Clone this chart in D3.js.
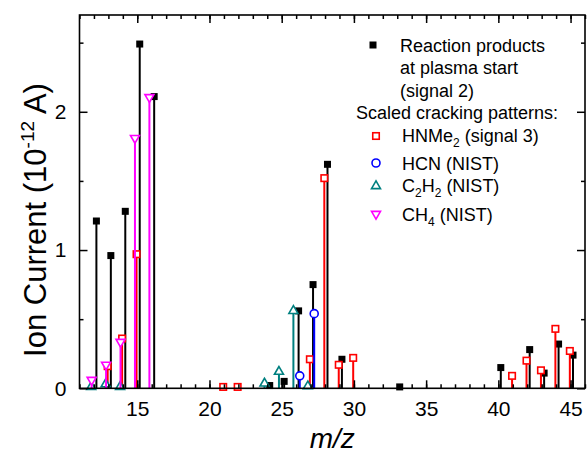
<!DOCTYPE html>
<html>
<head>
<meta charset="utf-8">
<title>Ion current vs m/z</title>
<script src="https://d3js.org/d3.v7.min.js"></script>
<style>
  body { margin: 0; background: #fff; }
  text { font-family: "Liberation Sans", Arial, sans-serif; fill: #000; }
</style>
</head>
<body>
<div id="chart"></div>
<script>
// Reaction products at plasma start (signal 2)
const mzSignal2 = [12, 13, 14, 15, 16, 24, 25, 26, 27, 28, 29, 33, 40, 42, 43, 44, 45]
const ionSignal2 = [1.21, 0.96, 1.28, 2.49, 2.11, 0.02, 0.05, 0.56, 0.75, 1.62, 0.21, 0.01, 0.15, 0.28, 0.11, 0.32, 0.24]

// Scaled cracking patterns
const mzHNMe2 = [13, 14, 15, 21, 22, 27, 28, 29, 30, 41, 42, 43, 44, 45]
const ionHNMe2 = [0.16, 0.36, 0.97, 0.01, 0.01, 0.21, 1.52, 0.17, 0.22, 0.09, 0.20, 0.13, 0.43, 0.27]

const mzHCN = [26, 27]
const ionHCN = [0.09, 0.54]

const mzC2H2 = [12, 13, 14, 24, 25, 26, 27]
const ionC2H2 = [0.01, 0.03, 0.01, 0.035, 0.12, 0.56, 0.015]

const mzCH4 = [12, 13, 14, 15, 16]
const ionCH4 = [0.06, 0.17, 0.335, 1.81, 2.105]

const xTicks = [15, 20, 25, 30, 35, 40, 45]
const yTicks = [0, 1, 2]

const w = 587
const h = 461
const margin = {left: 79.5, right: 2, top: 15, bottom: 72.7}

const x = d3.scaleLinear().domain([11, 46]).range([margin.left, w - margin.right])
const y = d3.scaleLinear().domain([0, 2.7]).range([h - margin.bottom, margin.top])

const svg = d3.select("#chart").append("svg")
    .attr("width", w)
    .attr("height", h)

// series: small horizontal shift so overlapping stems stay visible
const series = [
    {mz: mzSignal2, ion: ionSignal2, color: "#000", shape: "square", filled: true, shift: 0.17},
    {mz: mzHNMe2, ion: ionHNMe2, color: "#ff0000", shape: "square", filled: false, shift: -0.05},
    {mz: mzHCN, ion: ionHCN, color: "#0000ff", shape: "circle", filled: false, shift: 0.25},
    {mz: mzC2H2, ion: ionC2H2, color: "#008080", shape: "up", filled: false, shift: -0.19},
    {mz: mzCH4, ion: ionCH4, color: "#ff00ff", shape: "down", filled: false, shift: -0.16}
]

const drawMarker = (g, shape, color, filled, cx, cy) => {
    if (shape === "square") {
        const s = filled ? 7 : 6.5
        g.append("rect")
            .attr("x", cx - s / 2).attr("y", cy - s / 2)
            .attr("width", s).attr("height", s)
            .attr("fill", filled ? color : "#fff")
            .attr("stroke", filled ? "none" : color)
            .attr("stroke-width", 1.6)
    } else if (shape === "circle") {
        g.append("circle")
            .attr("cx", cx).attr("cy", cy).attr("r", 4)
            .attr("fill", "#fff")
            .attr("stroke", color)
            .attr("stroke-width", 1.6)
    } else {
        const s = 9
        const hh = s * Math.sqrt(3) / 2
        const pts = shape === "up"
            ? [[cx, cy - hh * 2 / 3], [cx - s / 2, cy + hh / 3], [cx + s / 2, cy + hh / 3]]
            : [[cx, cy + hh * 2 / 3], [cx - s / 2, cy - hh / 3], [cx + s / 2, cy - hh / 3]]
        g.append("polygon")
            .attr("points", pts.map(p => p.join(",")).join(" "))
            .attr("fill", "#fff")
            .attr("stroke", color)
            .attr("stroke-width", 1.6)
    }
}

const plot = svg.append("g")

series.forEach(s => {
    const g = plot.append("g")
    const pts = s.mz.map((m, i) => ({m: m + s.shift, v: s.ion[i]}))
    g.selectAll("line")
        .data(pts)
        .enter()
        .append("line")
        .attr("x1", d => x(d.m))
        .attr("x2", d => x(d.m))
        .attr("y1", y(0))
        .attr("y2", d => y(d.v))
        .attr("stroke", s.color)
        .attr("stroke-width", 2)
    pts.forEach(d => drawMarker(g, s.shape, s.color, s.filled, x(d.m), y(d.v)))
})

// Frame and axes (ticks point inward on all four sides)
const minorX = d3.range(11, 47)
const minorY = [0.5, 1.5, 2.5]

const styleAxis = g => {
    g.select(".domain").remove()
    g.selectAll("line").attr("stroke", "#000").attr("stroke-width", 1.5)
    g.selectAll("text").attr("font-size", 21).attr("font-family", "Liberation Sans, Arial, sans-serif")
}

svg.append("g")
    .attr("transform", "translate(0," + y(0) + ")")
    .call(d3.axisBottom(x).tickValues(minorX).tickSize(-4).tickFormat(""))
    .call(styleAxis)
svg.append("g")
    .attr("transform", "translate(0," + y(0) + ")")
    .call(d3.axisBottom(x).tickValues(xTicks).tickSize(-8).tickPadding(13).tickFormat(d3.format("d")))
    .call(styleAxis)
svg.append("g")
    .attr("transform", "translate(0," + margin.top + ")")
    .call(d3.axisTop(x).tickValues(minorX).tickSize(-4).tickFormat(""))
    .call(styleAxis)
svg.append("g")
    .attr("transform", "translate(0," + margin.top + ")")
    .call(d3.axisTop(x).tickValues(xTicks).tickSize(-8).tickFormat(""))
    .call(styleAxis)
svg.append("g")
    .attr("transform", "translate(" + margin.left + ",0)")
    .call(d3.axisLeft(y).tickValues(minorY).tickSize(-4).tickFormat(""))
    .call(styleAxis)
svg.append("g")
    .attr("transform", "translate(" + margin.left + ",0)")
    .call(d3.axisLeft(y).tickValues(yTicks).tickSize(-8).tickPadding(13).tickFormat(d3.format("d")))
    .call(styleAxis)
svg.append("g")
    .attr("transform", "translate(" + (w - margin.right) + ",0)")
    .call(d3.axisRight(y).tickValues(minorY).tickSize(-4).tickFormat(""))
    .call(styleAxis)
svg.append("g")
    .attr("transform", "translate(" + (w - margin.right) + ",0)")
    .call(d3.axisRight(y).tickValues(yTicks).tickSize(-8).tickFormat(""))
    .call(styleAxis)

// tick groups without labels keep empty <text> nodes; drop them
svg.selectAll(".tick text").filter(function () { return this.textContent === "" }).remove()

svg.append("rect")
    .attr("x", margin.left)
    .attr("y", margin.top)
    .attr("width", w - margin.right - margin.left)
    .attr("height", y(0) - margin.top)
    .attr("fill", "none")
    .attr("stroke", "#000")
    .attr("stroke-width", 1.6)

// Axis titles
svg.append("text")
    .attr("x", (margin.left + w - margin.right) / 2)
    .attr("y", 448)
    .attr("text-anchor", "middle")
    .attr("font-size", 28)
    .attr("font-style", "italic")
    .text("m/z")

const yLabel = svg.append("text")
    .attr("transform", "translate(46,220)rotate(-90)")
    .attr("text-anchor", "middle")
    .attr("font-size", 31)
yLabel.append("tspan").text("Ion Current (10")
yLabel.append("tspan").attr("font-size", 19).attr("dy", -12).text("-12")
yLabel.append("tspan").attr("dy", 12).text(" A)")

// Legend
const legend = svg.append("g").attr("font-size", 18)
const lineText = (tx, ty, parts) => {
    const t = legend.append("text").attr("x", tx).attr("y", ty)
    let lowered = false
    parts.forEach(p => {
        if (typeof p === "string") {
            t.append("tspan").attr("dy", lowered ? -5 : 0).text(p)
            lowered = false
        } else {
            t.append("tspan").attr("font-size", 12).attr("dy", lowered ? 0 : 5).text(p.low)
            lowered = true
        }
    })
}
drawMarker(legend, "square", "#000", true, 373, 45)
lineText(400, 51.5, ["Reaction products"])
lineText(400, 73.5, ["at plasma start"])
lineText(400, 96.5, ["(signal 2)"])
lineText(356, 118.5, ["Scaled cracking patterns:"])
drawMarker(legend, "square", "#ff0000", false, 376, 136)
lineText(402, 141.5, ["HNMe", {low: "2"}, " (signal 3)"])
drawMarker(legend, "circle", "#0000ff", false, 376, 163)
lineText(402, 169.5, ["HCN (NIST)"])
drawMarker(legend, "up", "#008080", false, 376, 186)
lineText(402, 191.5, ["C", {low: "2"}, "H", {low: "2"}, " (NIST)"])
drawMarker(legend, "down", "#ff00ff", false, 376, 214)
lineText(402, 220.5, ["CH", {low: "4"}, " (NIST)"])
</script>
</body>
</html>
